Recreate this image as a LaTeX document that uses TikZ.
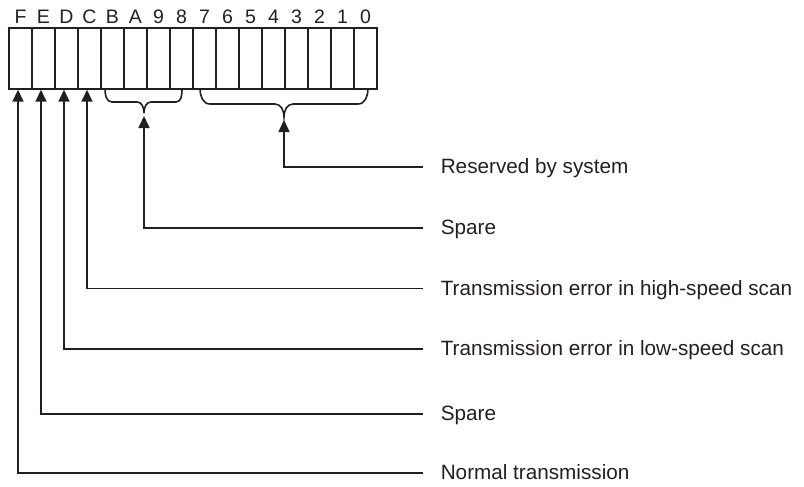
\documentclass[tikz,border=0pt]{standalone}
\usepackage{fontspec}
\setmainfont{Liberation Sans}
\usetikzlibrary{arrows.meta}
\begin{document}
\begin{tikzpicture}[x=1pt,y=-1pt,
  line width=1.6pt, draw={rgb,255:red,35;green,31;blue,32},
  cell/.style={draw, minimum width=23pt, minimum height=61pt, inner sep=0pt, outer sep=0pt},
  bit/.style={font=\fontsize{19.5}{21}\selectfont, inner sep=0pt, anchor=base, text={rgb,255:red,35;green,31;blue,32}},
  lab/.style={font=\fontsize{20.7}{24}\selectfont, anchor=base west, inner sep=0pt, text={rgb,255:red,35;green,31;blue,32}},
  arr/.style={-{Triangle[length=12pt,width=11pt]}},
  brace/.style={line cap=round}]
\useasboundingbox (0,0) rectangle (804,487);
% register cells
\foreach \b [count=\i from 0] in {F,E,D,C,B,A,9,8,7,6,5,4,3,2,1,0} {
  \node[cell] (c\b) at ({20.5+23*\i},58.5) {};
  \node[bit] (t\b) at ({20.5+23*\i},23.3) {\b};
}
% braces
\draw[brace] (105,89) to[out=-90,in=180] (112,102) -- (137,102) to[out=0,in=90] (144,113) coordinate (b1t)
  to[out=90,in=180] (151,102) -- (176,102) to[out=0,in=-90] (182,89);
\draw[brace] (200,89) to[out=-90,in=180] (210,104) -- (275,104) to[out=0,in=90] (284,117) coordinate (b2t)
  to[out=90,in=180] (293,104) -- (358,104) to[out=0,in=-90] (368,89);
% labels
\node[lab] (l1) at (440,173.3) {Reserved by system};
\node[lab] (l2) at (440,234.6) {Spare};
\node[lab] (l3) at (440,295.1) {Transmission error in high-speed scan};
\node[lab] (l4) at (440,355.6) {Transmission error in low-speed scan};
\node[lab] (l5) at (440,420.6) {Spare};
\node[lab] (l6) at (440,479.6) {Normal transmission};
% arrow tips and line ends
\coordinate (a1) at (284,120);
\coordinate (a2) at (144,116);
\coordinate (a3) at (87,89.7);
\coordinate (a4) at (64,89.7);
\coordinate (a5) at (41,89.7);
\coordinate (a6) at (18,89.7);
\coordinate (e1) at (423,166.7);
\coordinate (e2) at (423,228);
\coordinate (e3) at (423,288.5);
\coordinate (e4) at (423,349);
\coordinate (e5) at (423,414);
\coordinate (e6) at (423,473);
% connectors
\foreach \k in {1,...,6} {
  \draw[arr] (e\k) -| (a\k);
}
\end{tikzpicture}
\end{document}
